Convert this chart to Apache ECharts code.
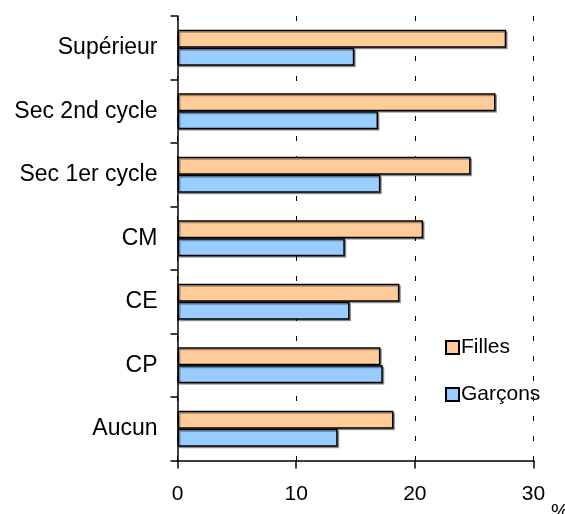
<!DOCTYPE html>
<html>
<head>
<meta charset="utf-8">
<script src="https://cdn.jsdelivr.net/npm/echarts@6/dist/echarts.min.js"></script>
<style>
  html, body { margin: 0; padding: 0; background: #fff; }
  #chart { width: 565px; height: 514px; }
</style>
</head>
<body>
<div id="chart"></div>
<script>
// niveaux d'instruction, du bas vers le haut
const categories = ["Aucun", "CP", "CE", "CM", "Sec 1er cycle", "Sec 2nd cycle", "Supérieur"];
const filles = [18.2, 17.1, 18.7, 20.7, 24.7, 26.8, 27.7];
const garcons = [13.5, 17.3, 14.5, 14.1, 17.1, 16.9, 14.9];
const xTicks = [0, 10, 20, 30];

const font = "'Liberation Sans', Arial, sans-serif";
const barStyle = (color) => ({
  color: color,
  borderColor: "#000",
  borderWidth: 1.5,
  shadowColor: "rgba(0,0,0,0.35)",
  shadowOffsetX: 1.5,
  shadowOffsetY: 1.5,
  shadowBlur: 0,
});

const chart = echarts.init(document.getElementById("chart"));
chart.setOption({
  animation: false,
  textStyle: { fontFamily: font, color: "#000" },
  grid: { left: 177.5, right: 31.5, top: 16, bottom: 53.5, outerBoundsMode: "none", containLabel: false },
  legend: {
    data: ["Filles", "Garçons"],
    icon: "rect",
    orient: "vertical",
    left: 440,
    top: 332,
    itemWidth: 13,
    itemHeight: 13,
    itemGap: 26,
    textStyle: { fontSize: 21, color: "#000", padding: [0, 0, 0, -3] },
  },
  xAxis: {
    type: "value",
    min: xTicks[0],
    max: xTicks[xTicks.length - 1],
    interval: 10,
    name: "%",
    nameLocation: "end",
    nameGap: 11,
    nameTextStyle: { fontSize: 20, color: "#000", verticalAlign: "top", padding: [42, 0, 0, 0] },
    axisLine: { show: true, lineStyle: { color: "#000", width: 1.5 } },
    axisTick: { show: true, length: 8, lineStyle: { color: "#000", width: 1.5 } },
    axisLabel: { fontSize: 21, color: "#000", margin: 23 },
    splitLine: { show: true, lineStyle: { color: "#000", width: 1, type: [5, 15] } },
  },
  yAxis: {
    type: "category",
    data: categories,
    axisLine: { show: true, lineStyle: { color: "#000", width: 1.5 } },
    axisTick: { show: true, length: 7, lineStyle: { color: "#000", width: 1.5 } },
    axisLabel: { fontSize: 23, color: "#000", margin: 20 },
  },
  series: [
    {
      name: "Filles",
      type: "bar",
      data: filles,
      barGap: "0%",
      barCategoryGap: "43%",
      itemStyle: barStyle("#FFCC99"),
    },
    {
      name: "Garçons",
      type: "bar",
      data: garcons,
      barGap: "0%",
      barCategoryGap: "43%",
      itemStyle: barStyle("#99CCFF"),
    },
  ],
});
</script>
</body>
</html>
